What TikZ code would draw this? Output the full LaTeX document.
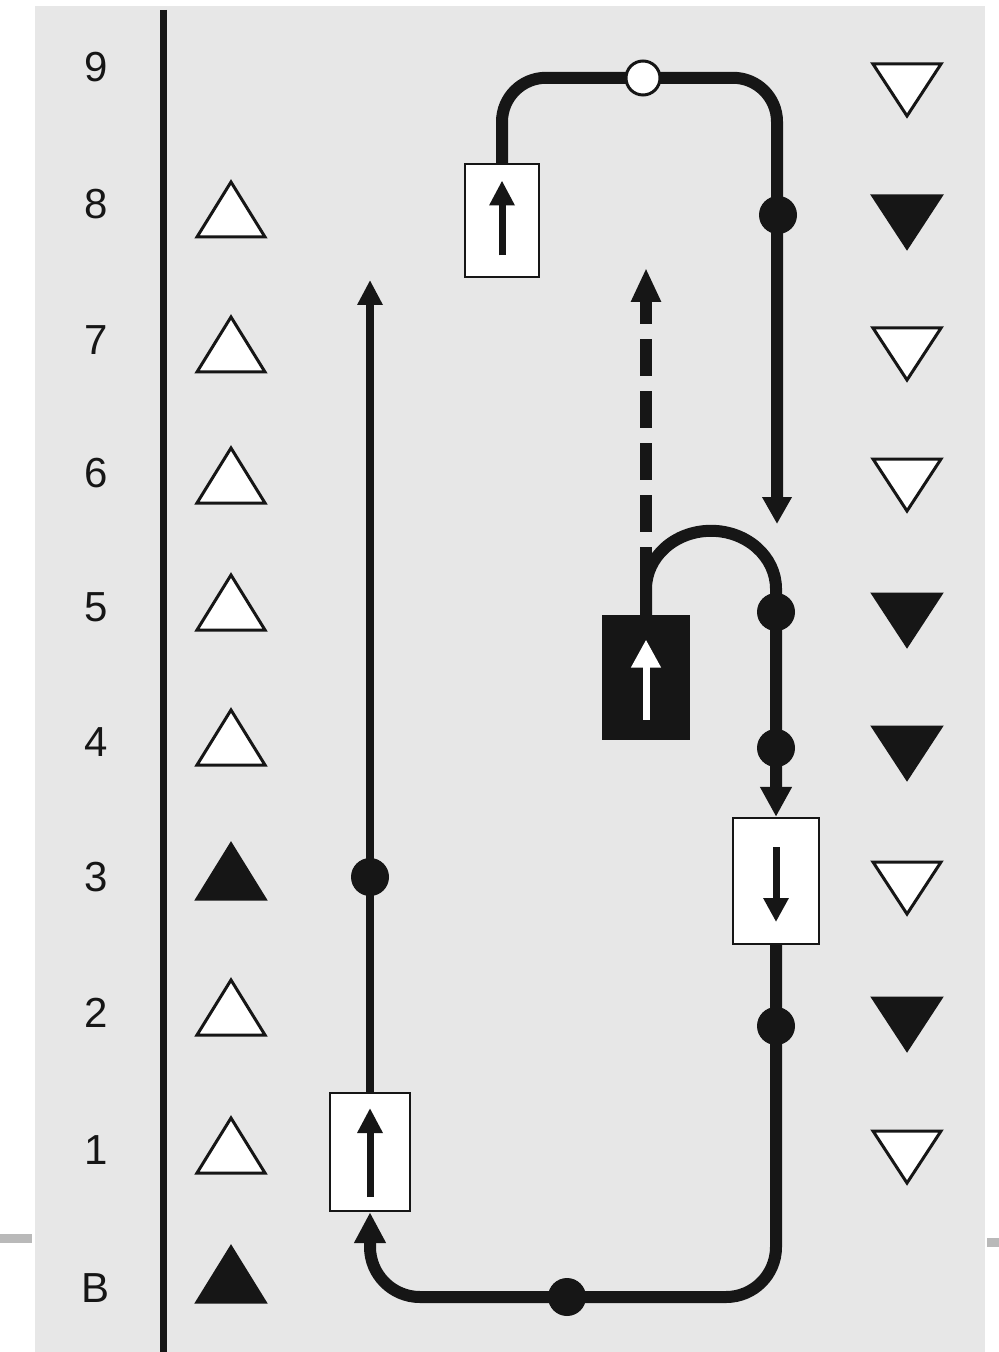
\documentclass[tikz,border=0pt]{standalone}
\usepackage{fontspec}
\setmainfont{Liberation Sans}
\usetikzlibrary{arrows.meta,calc}
\definecolor{paper}{RGB}{231,231,231}
\definecolor{foldmark}{RGB}{185,185,185}
\definecolor{ink}{RGB}{22,22,22}
\begin{document}
\begin{tikzpicture}[x=0.5pt,y=-0.5pt,
  rowlabel/.style={font=\fontsize{21pt}{21pt}\selectfont, text=ink, inner sep=0pt},
  flow/.style={draw=ink, line width=6pt},
  thinflow/.style={draw=ink, line width=4pt},
  innerarrow/.style={draw=ink, line width=3.5pt, -{Triangle[length=12.5pt,width=12pt]}},
  box/.style={draw=ink, line width=1.2pt, fill=white, inner sep=0pt},
  darkbox/.style={draw=ink, line width=1.2pt, fill=ink, inner sep=0pt},
  dot/.style={circle, fill=ink, minimum size=19pt, inner sep=0pt},
  opendot/.style={circle, draw=ink, line width=1.5pt, fill=white, minimum size=17pt, inner sep=0pt},
  opentri/.style={draw=ink, line width=1.5pt, fill=white, line join=miter},
  solidtri/.style={draw=ink, line width=1.5pt, fill=ink, line join=miter},
  uptri/.pic={\path[pic actions] (-34,27) -- (0,-28) -- (34,27) -- cycle;},
  downtri/.pic={\path[pic actions] (-34,-26) -- (0,26) -- (34,-26) -- cycle;}
]
\useasboundingbox (0,0) rectangle (999,1352);
% sheet and fold marks
\fill[white] (0,0) rectangle (999,1352);
\fill[paper] (35,6) rectangle (985,1352);
\fill[foldmark] (0,1234) rectangle (32,1243);
\fill[foldmark] (987,1238) rectangle (999,1247);

% level axis
\draw[ink, line width=3.5pt] (163,10) -- (163,1352);

% level labels
\foreach \lab/\yy in {9/67,8/204,7/340,6/473,5/607,4/742,3/877,2/1013,1/1150,B/1288}
  \node[rowlabel] (lab\lab) at (96,\yy) {\lab};

% up triangles (left column)
\foreach \yy in {210,345,476,603,738,1008,1146}
  \pic[opentri] at (231,\yy) {uptri};
\foreach \yy in {872,1275}
  \pic[solidtri] at (231,\yy) {uptri};

% down triangles (right column)
\foreach \yy in {90,354,485,888,1157}
  \pic[opentri] at (907,\yy) {downtri};
\foreach \yy in {222,620,753,1024}
  \pic[solidtri] at (907,\yy) {downtri};

% boxes
\node[box, minimum width=40pt, minimum height=59pt] (b1) at (370,1152) {};
\node[darkbox, minimum width=43pt, minimum height=61.5pt] (b2) at (646,677.5) {};
\node[box, minimum width=43pt, minimum height=63pt] (b3) at (776,881) {};
\node[box, minimum width=37pt, minimum height=56.5pt] (b4) at (502,220.5) {};

% free arrow ends
\coordinate (t1) at (370,280);
\coordinate (t2) at (777,524);
\coordinate (t3) at (646,268);
\coordinate (dbotc) at (567,1297);

% long rising line
\draw[thinflow, -{Triangle[length=12.5pt,width=12pt]}] (b1.north) -- (t1);

% top loop
\draw[flow, rounded corners=22pt, -{Triangle[length=13.5pt,width=14pt]}]
  (b4.north) -- ++(0,-85) -| (t2);

% dashed rise from the dark box
\draw[flow, dash pattern=on 18.5pt off 7.5pt, dash phase=10.5pt,
      -{Triangle[length=17pt,width=14pt]}] (b2.north) -- (t3);

% arch into the down box
\draw[flow, -{Triangle[length=15pt,width=15pt]}]
  (b2.north) -- ++(0,-26) arc[start angle=180, end angle=0, x radius=32.5pt, y radius=29pt]
  -- (b3.north);

% bottom return
\draw[flow, rounded corners=25pt, -{Triangle[length=15.5pt,width=15pt]}]
  (b3.south) -- (b3.south |- dbotc) -- (b1.south |- dbotc) -- (b1.south);

% arrows inside boxes
\draw[innerarrow] ($(b1.center)+(0,45)$) -- ($(b1.center)+(0,-44)$);
\draw[innerarrow] ($(b4.center)+(0,35)$) -- ($(b4.center)+(0,-40)$);
\draw[innerarrow, draw=white, -{Triangle[length=14pt,width=14pt]}] ($(b2.center)+(0,42)$) -- ($(b2.center)+(0,-38)$);
\draw[innerarrow, -{Triangle[length=12pt,width=12pt]}] ($(b3.center)+(0,-34)$) -- ($(b3.center)+(0,41)$);

% stops
\node[dot] (d1) at (370,877) {};
\node[opendot] (d2) at (643,78) {};
\node[dot] (d3) at (778,215) {};
\node[dot] (d4) at (776,612) {};
\node[dot] (d5) at (776,748) {};
\node[dot] (d6) at (776,1026) {};
\node[dot] (d7) at (dbotc) {};
\end{tikzpicture}
\end{document}
